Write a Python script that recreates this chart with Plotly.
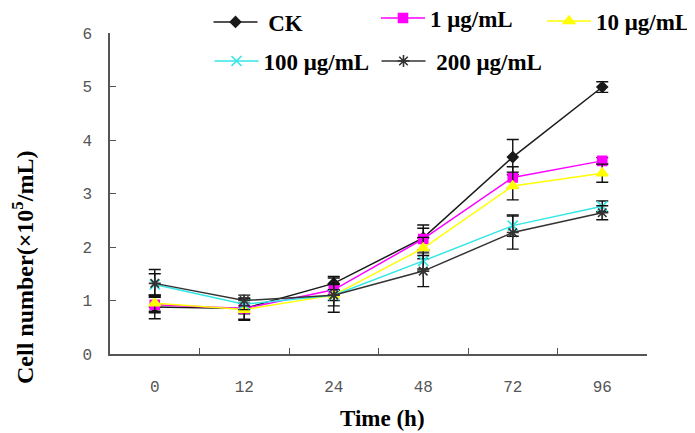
import plotly.graph_objects as go

times = ["0", "12", "24", "48", "72", "96"]
names = ["CK", "1 μg/mL", "10 μg/mL", "100 μg/mL", "200 μg/mL"]

ck = [0.88, 0.85, 1.32, 2.17, 3.68, 4.99]
c1 = [0.92, 0.85, 1.20, 2.15, 3.30, 3.61]
c10 = [0.95, 0.83, 1.10, 1.98, 3.14, 3.38]
c100 = [1.30, 0.93, 1.10, 1.74, 2.40, 2.76]
c200 = [1.32, 1.00, 1.10, 1.55, 2.27, 2.64]

ck_err = [0.22, 0.20, 0.13, 0.24, 0.33, 0.10]
c1_err = [0.15, 0.10, 0.10, 0.20, 0.20, 0.06]
c10_err = [0.15, 0.20, 0.10, 0.20, 0.26, 0.17]
c100_err = [0.20, 0.10, 0.20, 0.15, 0.20, 0.10]
c200_err = [0.26, 0.10, 0.32, 0.29, 0.31, 0.13]

values = [ck, c1, c10, c100, c200]
errors = [ck_err, c1_err, c10_err, c100_err, c200_err]
colors = ["#1a1a1a", "#ff00ff", "#ffff00", "#33e6e6", "#333333"]
symbols = ["diamond", "square", "triangle-up", "x-thin-open", "asterisk-open"]
msizes = [8, 9, 10, 10, 10]
legend_ids = ["legend", "legend2", "legend3", "legend4", "legend5"]
# small extra gap before some legend labels (non-breaking spaces)
label_pad = ["\u00a0", "", "", "", "\u00a0"]

# the page body adds an 8px offset, so the figure is 8px smaller and
# reference pixel positions are shifted by OFF
OFF = 8
W, H = 695 - OFF, 433 - OFF
L_PAD, R_PAD, T_PAD, B_PAD = 110 - OFF, 48, 33 - OFF, 79
PW, PH = W - L_PAD - R_PAD, H - T_PAD - B_PAD

ITEM_W = 44
# (symbol centre x, centre y) in reference pixels
leg_px = [(235.5, 22), (403, 18), (569, 21), (236.5, 61), (403.5, 61)]

fig = go.Figure()
for nm, pad, v, e, c, s, ms, lg in zip(names, label_pad, values, errors, colors, symbols, msizes, legend_ids):
    fig.add_trace(go.Scatter(
        x=times, y=v, name=pad + nm, mode="lines+markers",
        line=dict(color=c, width=1.5),
        marker=dict(symbol=s, size=ms, color=c, line=dict(color=c, width=1.6)),
        error_y=dict(type="data", array=e, visible=True, color="#111111", thickness=1.4, width=6),
        legend=lg,
    ))

legfont = dict(family="Liberation Serif", size=23, color="#000000", weight="bold")
legend_layout = {}
for lg, (cx, cy) in zip(legend_ids, leg_px):
    left = cx - (ITEM_W + 10) / 2
    legend_layout[lg] = dict(
        orientation="h", x=(left - OFF - L_PAD) / PW, y=(H - B_PAD - (cy - OFF)) / PH,
        xanchor="left", yanchor="middle", font=legfont,
        bgcolor="rgba(0,0,0,0)", itemwidth=ITEM_W, borderwidth=0)

fig.update_layout(
    width=W, height=H,
    margin=dict(l=L_PAD, r=R_PAD, t=T_PAD, b=B_PAD, autoexpand=False),
    paper_bgcolor="white", plot_bgcolor="white",
    showlegend=True,
    **legend_layout,
    xaxis=dict(type="category", range=[-0.5, 5.5], showline=True, linecolor="#555555",
               linewidth=1.5, ticks="inside", tickson="boundaries", ticklen=6,
               tickcolor="#555555", tickwidth=1.3, showgrid=False, zeroline=False,
               tickfont=dict(family="Liberation Mono", size=16, color="#555555"),
               ticklabelstandoff=17),
    yaxis=dict(range=[0, 6], dtick=1, showline=True, linecolor="#555555",
               linewidth=1.5, ticks="inside", ticklen=6, tickcolor="#555555",
               tickwidth=1.3, showgrid=False, zeroline=False,
               tickfont=dict(family="Liberation Mono", size=16, color="#555555"),
               ticklabelstandoff=13),
    annotations=[
        dict(text="<b>Time (h)</b>", xref="paper", yref="paper",
             x=(382 - OFF - L_PAD) / PW, y=(H - B_PAD - (418 - OFF)) / PH,
             xanchor="center", yanchor="middle", showarrow=False,
             font=dict(family="Liberation Serif", size=23, color="#000000")),
        dict(text="<b>Cell number(×10<sup>5</sup>/mL)</b>", xref="paper", yref="paper",
             x=(23 - OFF - L_PAD) / PW, y=(H - B_PAD - (268 - OFF)) / PH, textangle=-90,
             xanchor="center", yanchor="middle", showarrow=False,
             font=dict(family="Liberation Serif", size=24, color="#000000")),
    ],
)

fig.write_html("out.html")
